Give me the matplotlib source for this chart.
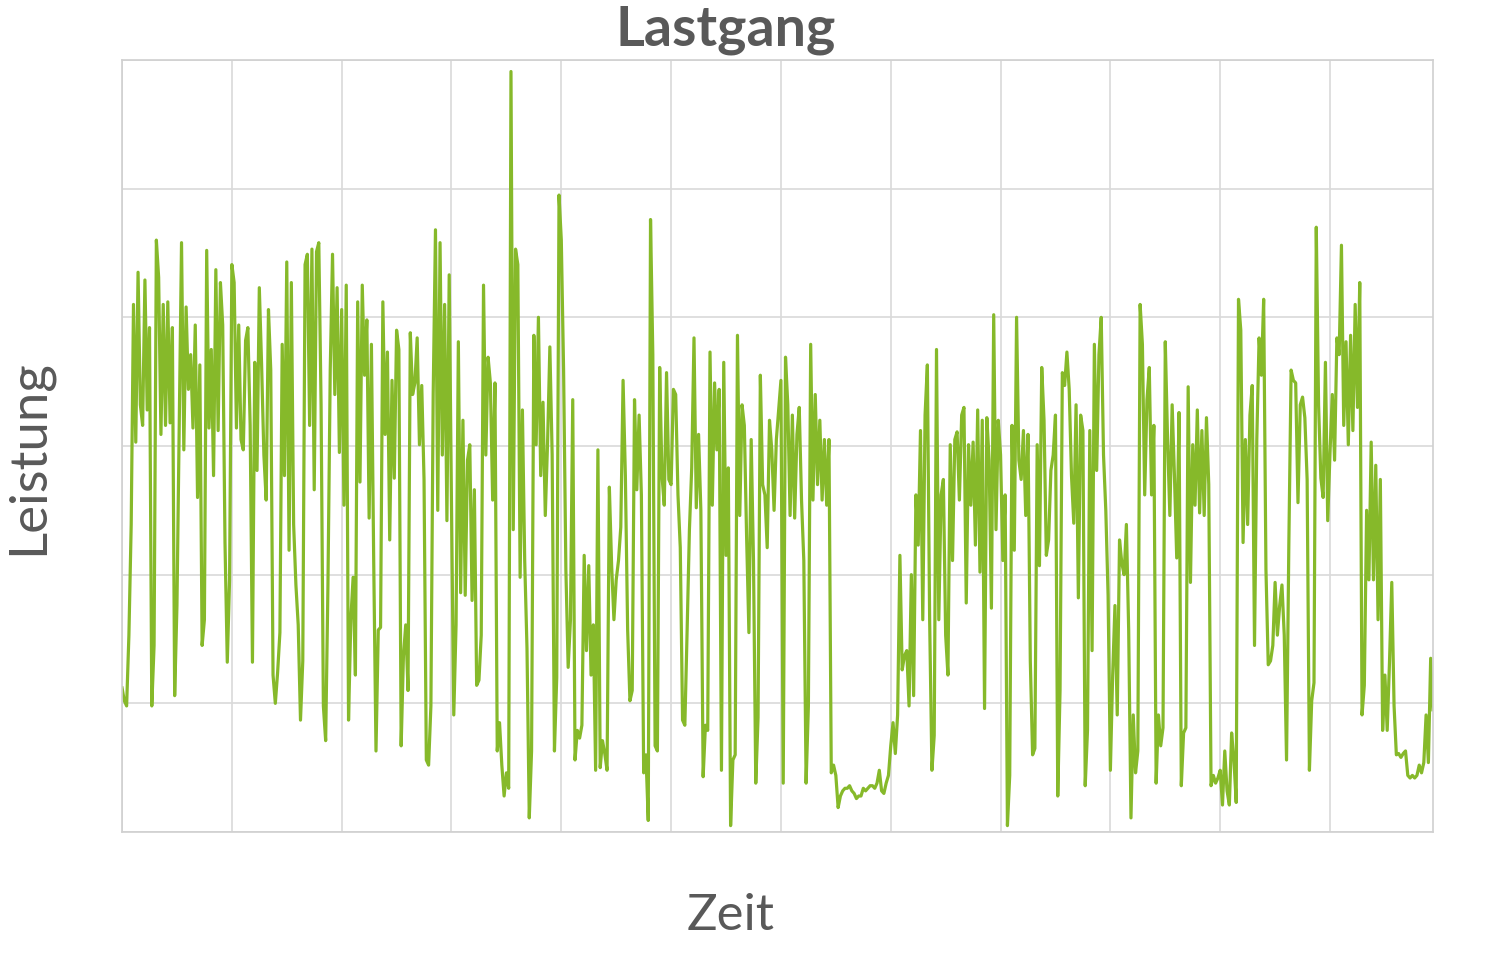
import numpy as np
import matplotlib.pyplot as plt

# Leistung je halbe Stunde, ein Tag pro Liste (Werte in Rasterstufen 0..6)
tag_01 = [1.12, 1.02, 0.98, 1.53, 2.39, 4.10, 3.03, 4.35, 3.32, 3.16, 4.29, 3.28, 3.92, 0.98, 1.45, 4.60,
          4.31, 3.09, 4.10, 3.16, 4.12, 3.18, 3.92, 1.06, 1.76, 3.16, 4.58, 2.97, 4.08, 3.44, 3.71, 3.14,
          3.94, 2.60, 3.63, 1.45, 1.65, 4.52, 3.14, 3.75, 2.77, 4.37, 3.12, 4.27, 3.94, 2.25, 1.32, 1.96]
tag_02 = [4.41, 4.27, 3.14, 3.94, 3.05, 2.97, 3.82, 3.92, 3.16, 1.32, 3.65, 2.81, 4.23, 3.63, 2.93, 2.58,
          4.06, 3.59, 1.22, 1.00, 1.24, 1.55, 3.79, 2.77, 4.43, 2.19, 4.27, 2.39, 1.92, 1.61, 0.87, 1.33,
          4.41, 4.49, 3.16, 4.53, 2.66, 4.51, 4.58, 3.32, 0.98, 0.71, 1.92, 3.59, 4.49, 3.40, 4.23, 2.95]
tag_03 = [4.06, 2.54, 4.25, 0.87, 1.65, 1.98, 1.22, 4.12, 2.72, 4.25, 3.55, 3.98, 2.44, 3.79, 2.11, 0.63,
          1.57, 1.59, 4.12, 3.09, 3.73, 2.27, 3.51, 2.75, 3.90, 3.75, 0.67, 1.37, 1.61, 1.10, 3.88, 3.40,
          3.49, 3.84, 3.01, 3.47, 2.74, 0.56, 0.52, 0.98, 3.40, 4.68, 2.50, 4.58, 2.93, 4.10, 2.42, 4.33]
tag_04 = [2.54, 0.91, 1.61, 3.81, 1.86, 3.20, 1.84, 2.89, 3.01, 1.80, 2.66, 1.14, 1.18, 1.53, 4.25, 2.93,
          3.69, 3.49, 2.58, 3.49, 0.63, 0.85, 0.52, 0.28, 0.46, 0.34, 5.91, 2.35, 4.53, 4.41, 1.98, 3.28,
          2.11, 1.43, 0.11, 0.63, 3.86, 3.01, 4.00, 2.77, 3.34, 2.46, 3.03, 3.77, 2.93, 0.63, 1.20, 4.95]
tag_05 = [4.60, 3.59, 2.04, 1.28, 1.65, 3.36, 0.56, 0.79, 0.73, 0.83, 2.15, 1.41, 2.07, 1.22, 1.61, 0.48,
          2.97, 0.50, 0.71, 0.61, 0.48, 2.68, 2.07, 1.65, 1.96, 2.11, 2.37, 3.51, 2.77, 1.57, 1.02, 1.10,
          3.36, 2.66, 3.24, 2.62, 0.46, 0.60, 0.09, 4.76, 3.71, 0.67, 0.63, 3.61, 2.77, 2.54, 3.57, 2.74]
tag_06 = [2.70, 3.44, 3.40, 2.62, 2.21, 0.87, 0.83, 1.57, 2.35, 2.83, 3.84, 2.52, 3.09, 2.50, 0.43, 0.83,
          0.79, 3.73, 2.54, 3.49, 2.97, 3.44, 0.48, 3.65, 2.15, 2.83, 0.05, 0.56, 0.60, 3.86, 2.46, 3.32,
          3.16, 2.29, 1.55, 3.05, 2.11, 0.38, 0.89, 3.55, 2.70, 2.62, 2.21, 3.20, 2.97, 2.50, 3.05, 3.28]
tag_07 = [3.51, 0.38, 3.69, 3.32, 2.46, 3.24, 2.44, 3.09, 3.30, 2.58, 2.11, 0.38, 0.98, 3.79, 2.58, 3.40,
          2.70, 3.20, 2.58, 3.05, 2.54, 3.05, 0.46, 0.52, 0.44, 0.19, 0.28, 0.32, 0.34, 0.34, 0.36, 0.32,
          0.30, 0.26, 0.28, 0.28, 0.34, 0.32, 0.34, 0.36, 0.36, 0.34, 0.38, 0.48, 0.32, 0.30, 0.38, 0.44]
tag_08 = [0.67, 0.85, 0.61, 0.91, 2.15, 1.26, 1.37, 1.41, 0.98, 2.00, 1.06, 2.62, 2.23, 3.12, 1.65, 3.24,
          3.63, 1.65, 0.48, 0.75, 3.75, 1.65, 2.62, 2.74, 1.53, 1.22, 3.01, 2.11, 3.05, 3.11, 2.58, 3.24,
          3.30, 1.78, 3.01, 2.54, 3.03, 2.23, 3.28, 2.02, 3.20, 0.96, 3.22, 2.89, 1.74, 4.02, 2.35, 3.20]
tag_09 = [2.93, 2.11, 2.62, 0.05, 0.44, 3.16, 2.19, 4.00, 2.89, 2.74, 3.12, 2.46, 3.09, 1.33, 0.60, 0.65,
          3.01, 2.07, 3.61, 3.20, 2.15, 2.27, 2.81, 2.93, 3.24, 0.28, 1.10, 3.57, 3.47, 3.73, 3.44, 2.77,
          2.40, 3.32, 1.82, 3.24, 3.12, 0.36, 0.79, 3.12, 1.41, 3.79, 2.81, 3.71, 4.00, 2.93, 2.50, 1.84]
tag_10 = [0.48, 1.22, 1.76, 0.91, 2.27, 2.09, 2.00, 2.39, 1.57, 0.11, 0.91, 0.46, 0.63, 4.10, 3.79, 2.62,
          3.36, 3.61, 2.62, 3.16, 0.38, 0.91, 0.67, 0.81, 3.81, 3.05, 2.46, 3.32, 2.77, 2.13, 3.26, 0.36,
          0.77, 0.81, 3.46, 1.94, 3.01, 2.54, 3.28, 2.48, 3.12, 2.46, 3.22, 2.70, 0.36, 0.44, 0.38, 0.42]
tag_11 = [0.48, 0.21, 0.63, 0.32, 0.21, 0.77, 0.56, 0.23, 4.14, 3.90, 2.25, 3.05, 2.39, 3.24, 3.47, 1.45,
          3.05, 3.84, 3.55, 4.14, 2.04, 1.30, 1.33, 1.45, 1.94, 1.53, 1.76, 1.92, 1.53, 0.56, 2.23, 3.59,
          3.51, 3.49, 2.56, 3.32, 3.38, 3.22, 2.74, 0.48, 1.02, 1.16, 4.70, 3.32, 2.75, 2.60, 3.65, 2.42]
tag_12 = [2.95, 3.40, 2.89, 3.84, 3.71, 4.56, 3.16, 3.81, 3.01, 3.86, 3.12, 4.10, 3.30, 4.27, 0.91, 1.14,
          2.50, 1.96, 3.03, 1.96, 2.85, 1.65, 2.74, 0.79, 1.22, 0.79, 1.32, 1.94, 0.98, 0.60, 0.61, 0.58,
          0.61, 0.63, 0.44, 0.42, 0.44, 0.42, 0.44, 0.52, 0.46, 0.54, 0.91, 0.54, 1.35, 0.95]

tage = [tag_01, tag_02, tag_03, tag_04, tag_05, tag_06,
        tag_07, tag_08, tag_09, tag_10, tag_11, tag_12]

leistung = np.concatenate(tage)
zeit_h = np.arange(len(leistung)) * 0.5

grau = "#595959"
gruen = "#86B92A"

fig = plt.figure(figsize=(15.03, 9.61), dpi=100)
ax = fig.add_axes([0.0812, 0.1342, 0.8722, 0.8034])

ax.plot(zeit_h, leistung, color=gruen, lw=2.3)

ax.set_xlim(0, zeit_h[-1])
ax.set_ylim(0, 6)
ax.set_xticks(np.arange(0, zeit_h[-1], 24))
ax.set_yticks(range(7))
ax.tick_params(length=0, labelbottom=False, labelleft=False)
ax.grid(True, color="#D9D9D9", lw=1.2)
ax.set_axisbelow(True)
for s in ax.spines.values():
    s.set_color("#D0D0D0")
    s.set_linewidth(1.2)

# Beschriftungen
fig.text(0.483, 0.969, "Lastgang", ha="center", va="center",
         fontsize=40, fontweight="bold", color=grau, family="Lato")
fig.text(0.486, 0.047, "Zeit", ha="center", va="center",
         fontsize=36.5, color=grau, family="Lato")
fig.text(0.0186, 0.5245, "Leistung", ha="center", va="center", rotation=90,
         fontsize=38, color=grau, family="Lato")

fig.savefig("out.png", dpi=100)
plt.close(fig)
